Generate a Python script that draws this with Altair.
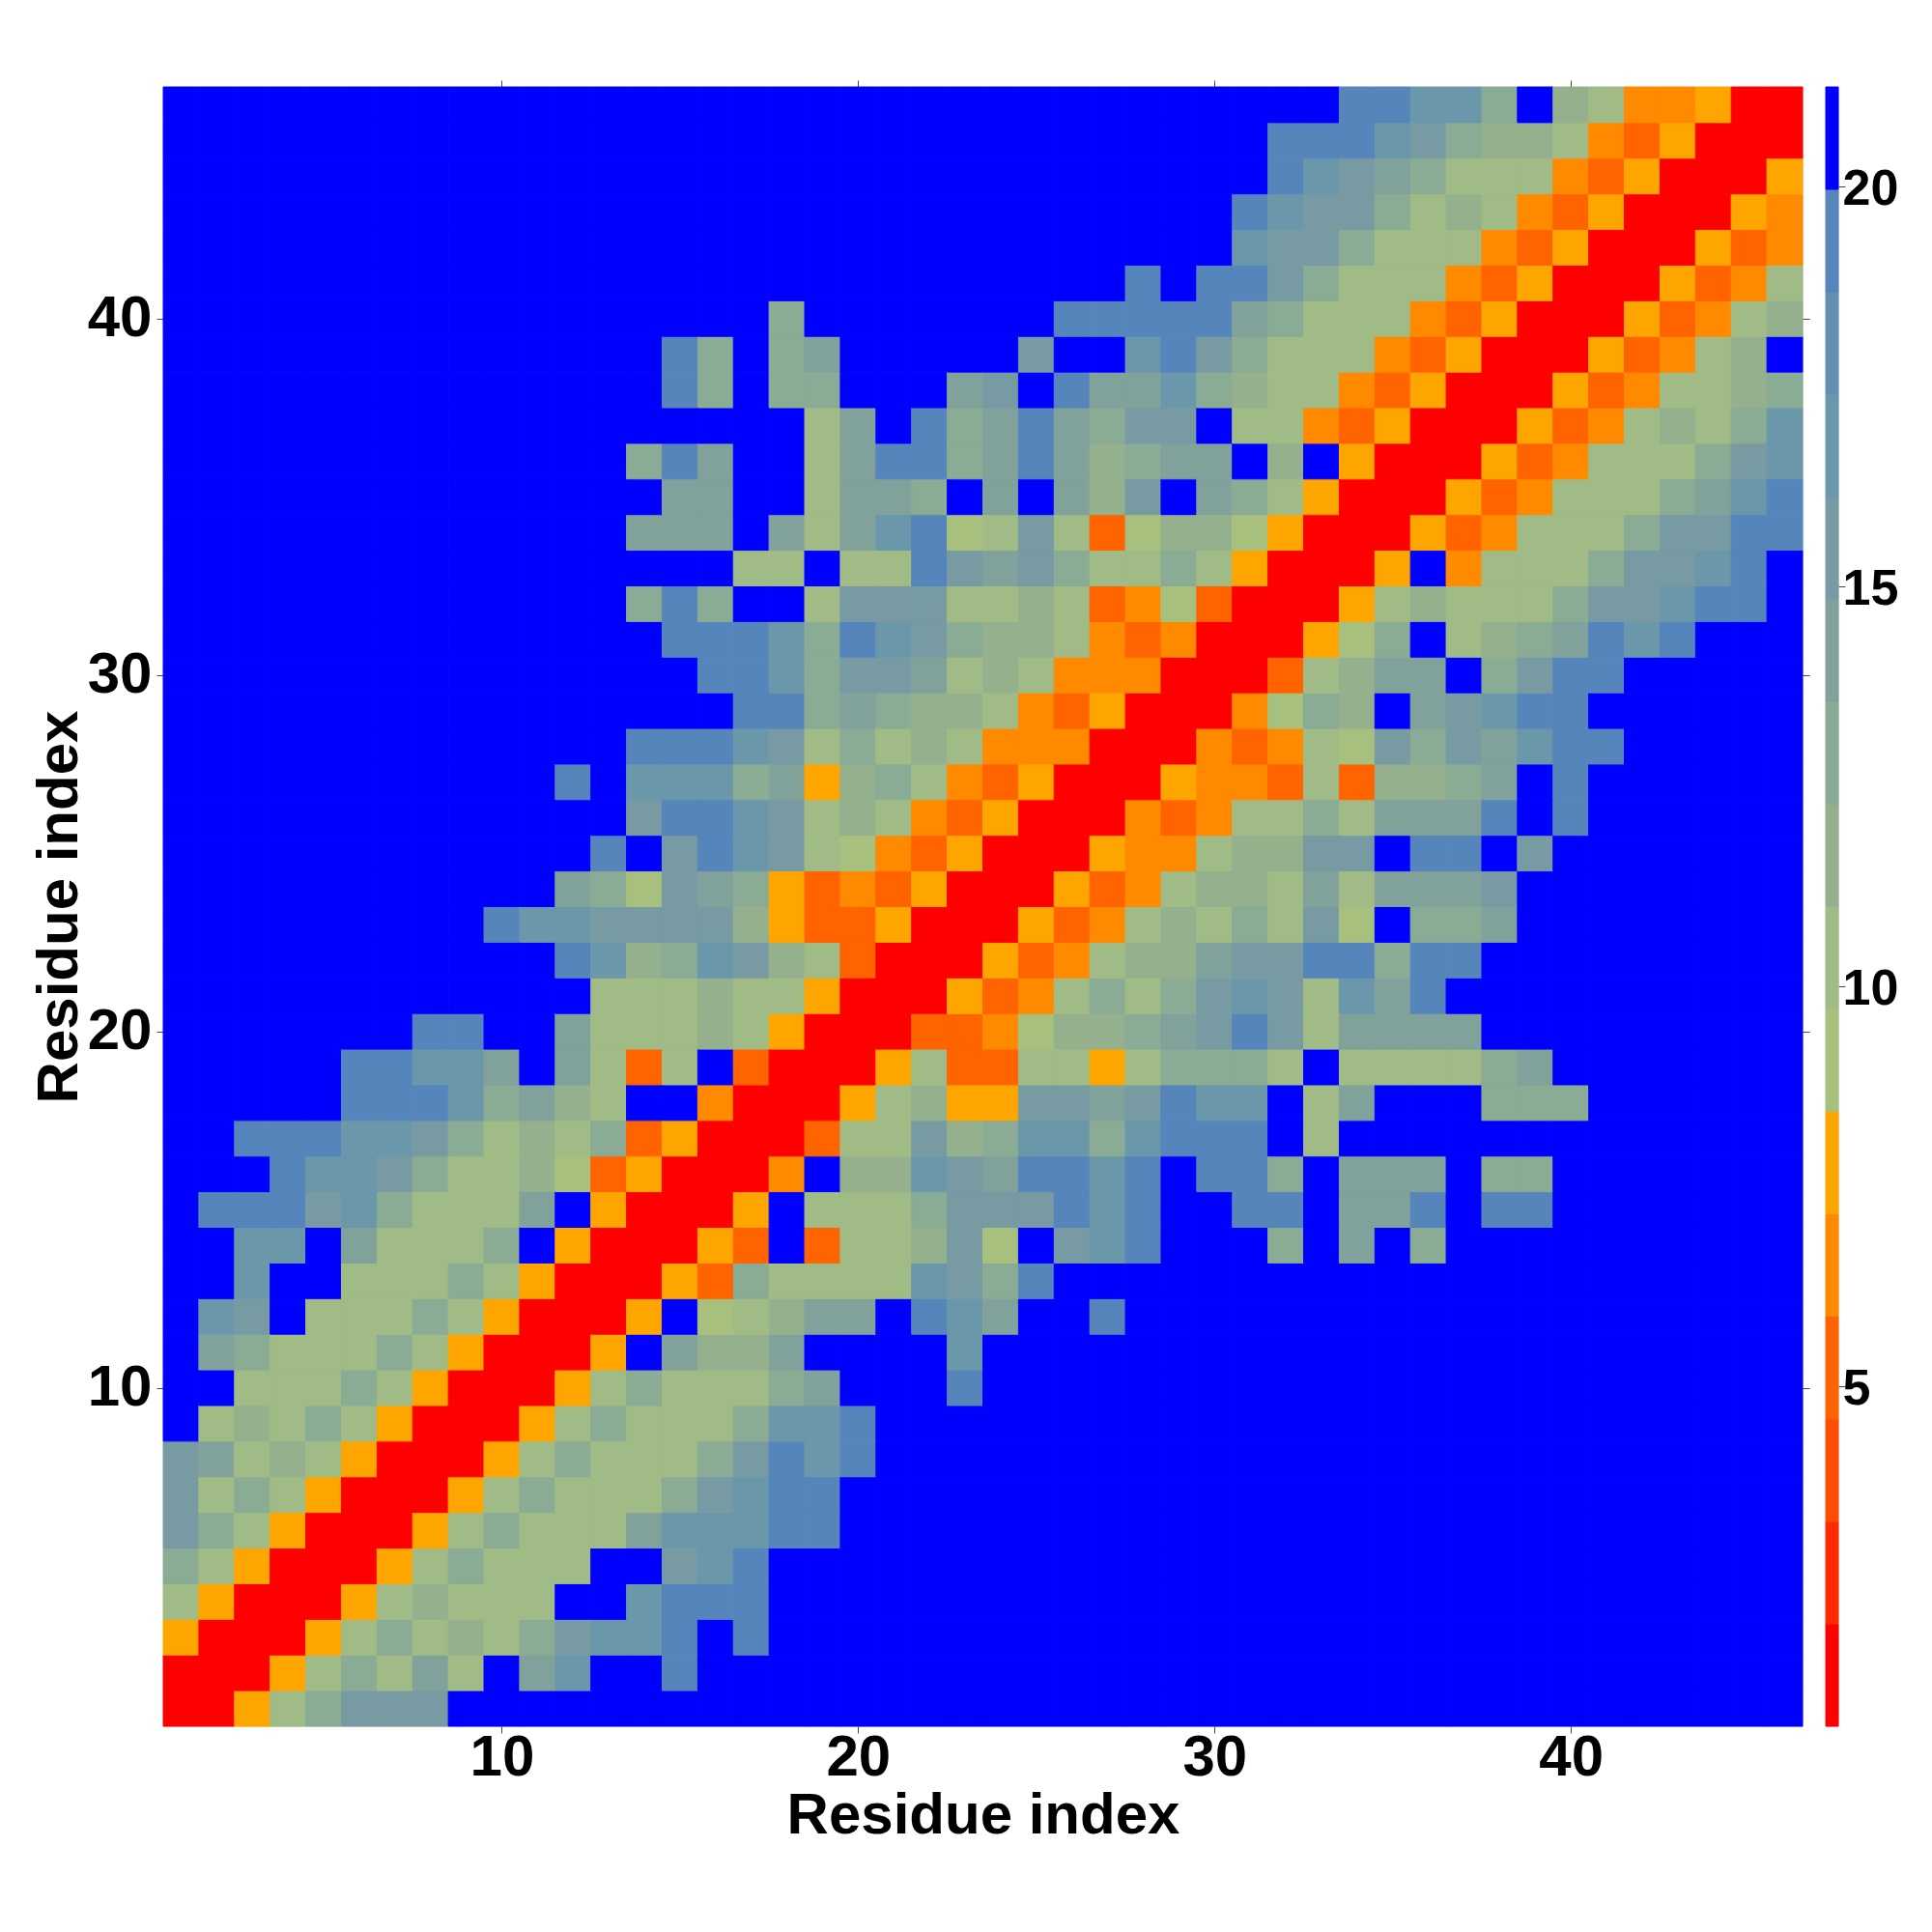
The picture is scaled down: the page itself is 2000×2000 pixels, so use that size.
import altair as alt
import pandas as pd

# Upper triangle of the symmetric map: entry k starts at column k+1 of row k+1, blue beyond the end.
TRIANGLE = [
    "RRAGIKKK", "RRAGIGJG.JM..N", "RRAGIGHGIKMMN.N", "RRAGHGGG..MNNN", "RRAGIGGG..KMN",
    "RRAGIGGGJMMMNN", "RRAGIGGGIKMNN", "RRAGIGGGIKNMN", "RRAGIGGGIMMN", "RRAGIGGGIJ...N",
    "RRA.JHHJ....M", "RRA.LGHJJ.NMJ..N", "RRAXIGGGGMKIN", "RRAX.XGGHKL.KMN...I.J.I",
    "RRA.GGGIKKKNMN..NN.JJN.NN", "RRO.HHMKJNNMN.NNI.JJJ.II", "RRXGGKHIMMIMNNN.G",
    "RRAGHAAKKJKNMM.GJ...III", "RRAGXXGGAGIIIG.GGGGIJ", "RRXXOLHHIJKNKGJJJJ",
    "RRAXOGIGIKMKGMJN", "RRAXOGHHJKKNNINN", "RRAXOGHGIGKL.IIJ", "RRAXOGHHGJGJJJK",
    "RRAOOGHHKK.NN.K", "RROXOGGIGJJJN.N", "RRAOOXGXHHIJ.N", "RROXOGLKIKJMNN",
    "RROLIH.JKMNN", "RRXGHJJ.IKNN", "RRALI.GHIJNMN", "RRAGHGGGIKKMNN", "RRA.OGGGIKKMN",
    "RRAXOGGGIKKNN", "RRAXOGGGIJMN", "RRAXOGGGIKM", "RRAXOGHGIM", "RRAXOGGHI",
    "RRAXOGH.", "RRAXOGH", "RRAXOG", "RRAXO", "RRAO", "RRA", "RR", "R",
]
LEVEL_VALUES = {"R": 1.4, "X": 5.2, "O": 6.5, "A": 7.8, "L": 9.1, "G": 10.4, "H": 11.6,
                "I": 12.9, "J": 14.2, "K": 15.5, "M": 16.8, "N": 19.3, ".": 20.6}
EDGES = [0.75, 2.03, 3.31, 4.59, 5.88, 7.16, 8.44, 9.72, 11.0, 12.28, 13.56, 14.84,
         16.13, 17.41, 18.69, 19.97, 21.25]
COLORS = ["#ff0000", "#ff2b00", "#ff4c00", "#ff6400", "#ff8a00", "#ffa500", "#a8c07e", "#a0bb85",
          "#94b08d", "#8aab94", "#80a29b", "#789ba3", "#6b97ab", "#6190b2", "#5585bb", "#0000ff"]
TICKS = [10, 20, 30, 40]
CBAR_TICKS = [5, 10, 15, 20]
N = 46
FONT = "Liberation Sans"

records = []
for i in range(N):
    row = TRIANGLE[i]
    for j in range(i, N):
        ch = row[j - i] if j - i < len(row) else "."
        v = LEVEL_VALUES[ch]
        records.append({"x0": j + 0.5, "x1": j + 1.5, "y0": i + 0.5, "y1": i + 1.5, "v": v})
        if i != j:
            records.append({"x0": i + 0.5, "x1": i + 1.5, "y0": j + 0.5, "y1": j + 1.5, "v": v})
df = pd.DataFrame(records)

color_scale = alt.Scale(type="threshold", domain=EDGES[1:-1], range=COLORS)
xs = alt.Scale(domain=[0.5, 46.5], nice=False, zero=False)

cells = alt.Chart(df).mark_rect(strokeWidth=1).encode(
    x=alt.X("x0:Q", scale=xs, title="Residue index",
            axis=alt.Axis(values=TICKS, grid=False, domain=False, tickSize=7, tickColor="#444",
                          labelFont=FONT, labelFontWeight="bold", labelFontSize=60, labelColor="black",
                          labelPadding=-4, labelFlush=False, format="d",
                          titleFont=FONT, titleFontWeight="bold", titleFontSize=60, titleColor="black",
                          titlePadding=1)),
    x2="x1:Q",
    y=alt.Y("y0:Q", scale=xs, title="Residue index",
            axis=alt.Axis(values=TICKS, grid=False, domain=False, tickSize=7, tickColor="#444",
                          labelFont=FONT, labelFontWeight="bold", labelFontSize=60, labelColor="black",
                          labelPadding=5, labelFlush=False, format="d",
                          titleFont=FONT, titleFontWeight="bold", titleFontSize=60, titleColor="black",
                          titlePadding=-2)),
    y2="y1:Q",
    color=alt.Color("v:Q", scale=color_scale, legend=None),
    stroke=alt.Stroke("v:Q", scale=color_scale, legend=None),
)

mirror_df = pd.DataFrame({"x0": TICKS, "y0": TICKS})
mirror = alt.Chart(mirror_df).mark_point(opacity=0).encode(
    x=alt.X("x0:Q", scale=xs, title=None,
            axis=alt.Axis(orient="top", values=TICKS, labels=False, grid=False, domain=False,
                          tickSize=7, tickColor="#444")),
    y=alt.Y("y0:Q", scale=xs, title=None,
            axis=alt.Axis(orient="right", values=TICKS, labels=False, grid=False, domain=False,
                          tickSize=7, tickColor="#444")),
)

main = alt.layer(cells, mirror).resolve_axis(x="independent", y="independent").properties(width=1697, height=1697)

bar_df = pd.DataFrame({"lo": EDGES[:-1], "hi": EDGES[1:]})
bar_df["mid"] = (bar_df["lo"] + bar_df["hi"]) / 2
cbar = alt.Chart(bar_df).mark_rect(strokeWidth=1).encode(
    x=alt.value(0), x2=alt.value(13),
    y=alt.Y("lo:Q", scale=alt.Scale(domain=[EDGES[0], EDGES[-1]], nice=False, zero=False), title=None,
            axis=alt.Axis(orient="right", values=CBAR_TICKS, grid=False, domain=False, tickSize=7,
                          tickColor="#444", labelFont=FONT, labelFontWeight="bold", labelFontSize=52,
                          labelColor="black", labelPadding=-3, labelOffset=2, labelFlush=False, format="d")),
    y2="hi:Q",
    color=alt.Color("mid:Q", scale=color_scale, legend=None),
    stroke=alt.Stroke("mid:Q", scale=color_scale, legend=None),
).properties(width=13, height=1697)

chart = alt.hconcat(main, cbar, spacing=15, padding={"left": 22, "top": 74, "right": 0, "bottom": 0}
    ).configure_view(stroke="#444", strokeWidth=1).configure(background="white")
chart.save("out.html", embed_options={"renderer": "svg", "actions": False})
